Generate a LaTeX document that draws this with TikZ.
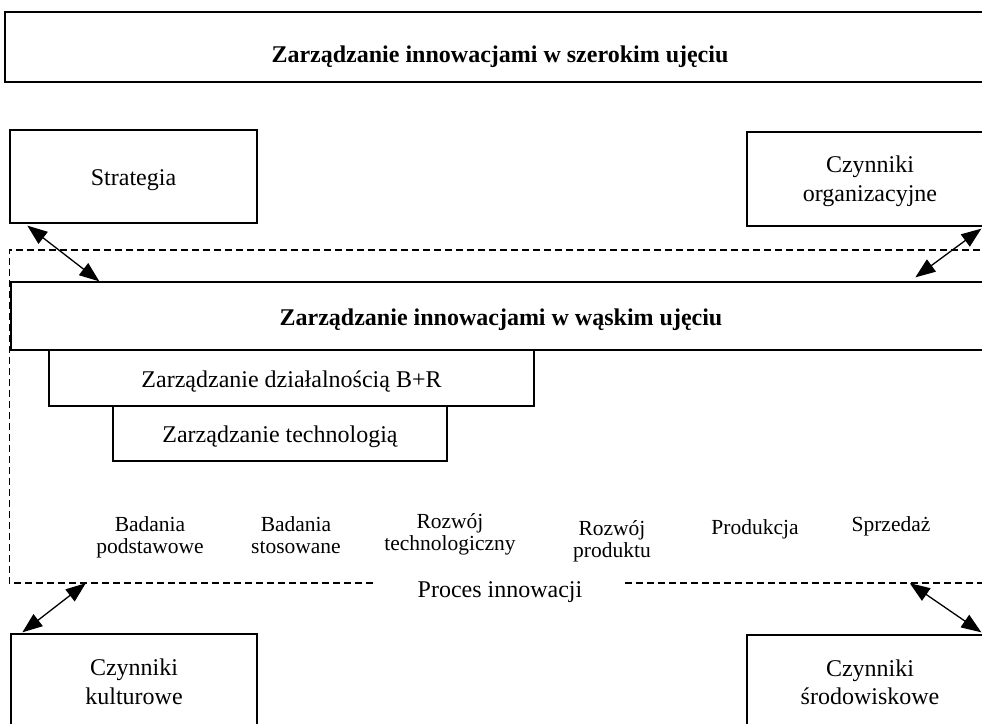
\documentclass[tikz,border=0pt]{standalone}
\usepackage{fontspec}
\setmainfont{Liberation Serif}
\usetikzlibrary{arrows.meta,calc}
\begin{document}
\begin{tikzpicture}[x=1pt,y=-1pt,
  box/.style={draw,line width=1.3pt,inner sep=0pt,font=\fontsize{24}{28.5}\selectfont,align=center,text height=22pt,text depth=3.4pt},
  twoline/.style={text height=47.4pt,text depth=3.4pt},
  txt/.style={inner sep=0pt,font=\fontsize{24}{27}\selectfont,align=center},
  lbl/.style={inner sep=0pt,font=\fontsize{21.5}{22}\selectfont,align=center,anchor=base},
  dashline/.style={line width=1.5pt,dash pattern=on 7pt off 4pt},
  link/.style={line width=1.3pt,{Triangle[length=20pt,width=15pt]}-{Triangle[length=20pt,width=15pt]}}]
\useasboundingbox (0,0) rectangle (982,723);
\clip (0,0) rectangle (982,723);
% top box
\node[box,minimum width=990pt,minimum height=70pt,text height=33.4pt,font=\fontsize{24}{27}\selectfont\bfseries] (top) at (500,47) {Zarządzanie innowacjami w szerokim ujęciu};
% side boxes
\node[box,minimum width=247pt,minimum height=93pt] (strat) at (133.5,176.5) {Strategia};
\node[box,twoline,minimum width=246pt,minimum height=94pt] (org) at (870,179) {Czynniki\\organizacyjne};
% dashed process frame
\node[inner sep=0pt,minimum width=990.5pt,minimum height=333pt] (proc) at (504.75,416.5) {};
\draw[dashline] ($(proc.south west)+(363.5,0)$) -- (proc.south west) -- (proc.north west) -- (proc.north east);
\draw[dashline] ($(proc.south west)+(615.5,0)$) -- (proc.south east);
% narrow box
\node[box,minimum width=980pt,minimum height=68pt,font=\fontsize{24}{27}\selectfont\bfseries] (narrow) at (501,316) {Zarządzanie innowacjami w wąskim ujęciu};
\node[box,minimum width=485pt,minimum height=56pt] (br) at (291.5,378) {Zarządzanie działalnością B+R};
\node[box,minimum width=334pt,minimum height=55pt] (tech) at (280,433.5) {Zarządzanie technologią};
% process stages
\node[lbl] (p1) at (150,553) {Badania\\podstawowe};
\node[lbl] (p2) at (296,553) {Badania\\stosowane};
\node[lbl] (p3) at (450,550) {Rozwój\\technologiczny};
\node[lbl] (p4) at (612,557) {Rozwój\\produktu};
\node[lbl] (p5) at (755,534) {Produkcja};
\node[lbl] (p6) at (891,531) {Sprzedaż};
\node[txt,anchor=base] (proclbl) at (500,597) {Proces innowacji};
% bottom boxes
\node[box,twoline,minimum width=246pt,minimum height=96pt] (kult) at (134,682) {Czynniki\\kulturowe};
\node[box,twoline,minimum width=246pt,minimum height=95pt] (srod) at (870,682.5) {Czynniki\\środowiskowe};
% arrows
\draw[link] ([xshift=18pt,yshift=-2pt]strat.south west) -- ([xshift=89pt]narrow.north west);
\draw[link] ([xshift=235pt,yshift=-2pt]org.south west) -- ([xshift=905pt,yshift=4pt]narrow.north west);
\draw[link] ([xshift=76.5pt]proc.south west) -- ([xshift=12pt,yshift=1pt]kult.north west);
\draw[link] ([xshift=900.5pt]proc.south west) -- ([xshift=235pt,yshift=2pt]srod.north west);
\end{tikzpicture}
\end{document}
